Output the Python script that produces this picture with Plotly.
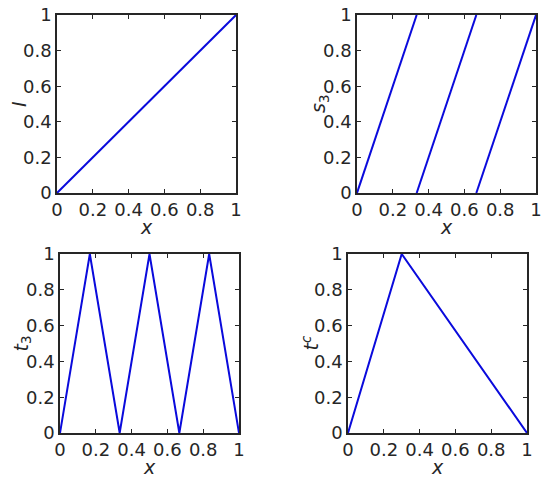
import plotly.graph_objects as go

# identity I(x)
x_id = [0, 1]
y_id = [0, 1]

# sawtooth s_3(x), three separate ramps
x_saw = [0, 1 / 3, None, 1 / 3, 2 / 3, None, 2 / 3, 1]
y_saw = [0, 1, None, 0, 1, None, 0, 1]

# tent map t_3(x)
x_tent3 = [0, 1 / 6, 1 / 3, 1 / 2, 2 / 3, 5 / 6, 1]
y_tent3 = [0, 1, 0, 1, 0, 1, 0]

# skew tent t^c(x), peak at c = 0.3
x_tentc = [0, 0.3, 1]
y_tentc = [0, 1, 0]

tick_vals = [0, 0.2, 0.4, 0.6, 0.8, 1]
tick_text = ["0", "0.2", "0.4", "0.6", "0.8", "1"]

# (x data, y data, y label, pixel left/right, pixel top/bottom)
panels = [
    (x_id, y_id, "<i>I</i>", [57, 236], [15, 193]),
    (x_saw, y_saw, "<i>s</i><sub>3</sub>", [357, 536], [15, 193]),
    (x_tent3, y_tent3, "<i>t</i><sub>3</sub>", [60, 239], [254, 433]),
    (x_tentc, y_tentc, "<i>t</i><sup><i>c</i></sup>", [348, 527], [254, 433]),
]

W, H = 550, 479
fig = go.Figure()
layout = dict(
    template="none",
    width=W,
    height=H,
    margin=dict(l=0, r=0, t=0, b=0, autoexpand=False),
    plot_bgcolor="white",
    paper_bgcolor="white",
    showlegend=False,
    font=dict(family="DejaVu Sans", size=18, color="#262626"),
)
annots = []

for i, (xs, ys, ylab, px_x, px_y) in enumerate(panels, start=1):
    sfx = "" if i == 1 else str(i)
    fig.add_trace(
        go.Scatter(
            x=xs, y=ys, mode="lines",
            line=dict(color="#0a0adc", width=2),
            xaxis="x" + sfx, yaxis="y" + sfx,
            connectgaps=False,
        )
    )
    common = dict(
        range=[0, 1],
        tickvals=tick_vals,
        ticktext=tick_text,
        ticks="inside",
        ticklen=4,
        tickwidth=1,
        tickcolor="#262626",
        showline=True,
        linecolor="#262626",
        linewidth=1.5,
        mirror="ticks",
        showgrid=False,
        zeroline=False,
        fixedrange=True,
        automargin=False,
    )
    layout["xaxis" + sfx] = dict(
        common,
        domain=[px_x[0] / W, px_x[1] / W],
        anchor="y" + sfx,
    )
    layout["yaxis" + sfx] = dict(
        common,
        domain=[1 - px_y[1] / H, 1 - px_y[0] / H],
        anchor="x" + sfx,
    )

    # axis titles as annotations, MATLAB-style placement
    annots.append(dict(
        text="<i>x</i>", xref="paper", yref="paper", showarrow=False,
        x=(px_x[0] + px_x[1]) / 2 / W, y=1 - (px_y[1] + 34) / H,
        xanchor="center", yanchor="middle", font=dict(size=19),
    ))
    annots.append(dict(
        text=ylab, xref="paper", yref="paper", showarrow=False, textangle=-90,
        x=(px_x[0] - 38) / W, y=1 - (px_y[0] + px_y[1]) / 2 / H,
        xanchor="center", yanchor="middle", font=dict(size=19),
    ))

layout["annotations"] = annots
fig.update_layout(**layout)
# page body has a default 8px margin; drop it so the figure sits at 0,0
fig.write_html(
    "out.html",
    config={"displayModeBar": False},
    post_script="document.body.style.margin='0';",
)
